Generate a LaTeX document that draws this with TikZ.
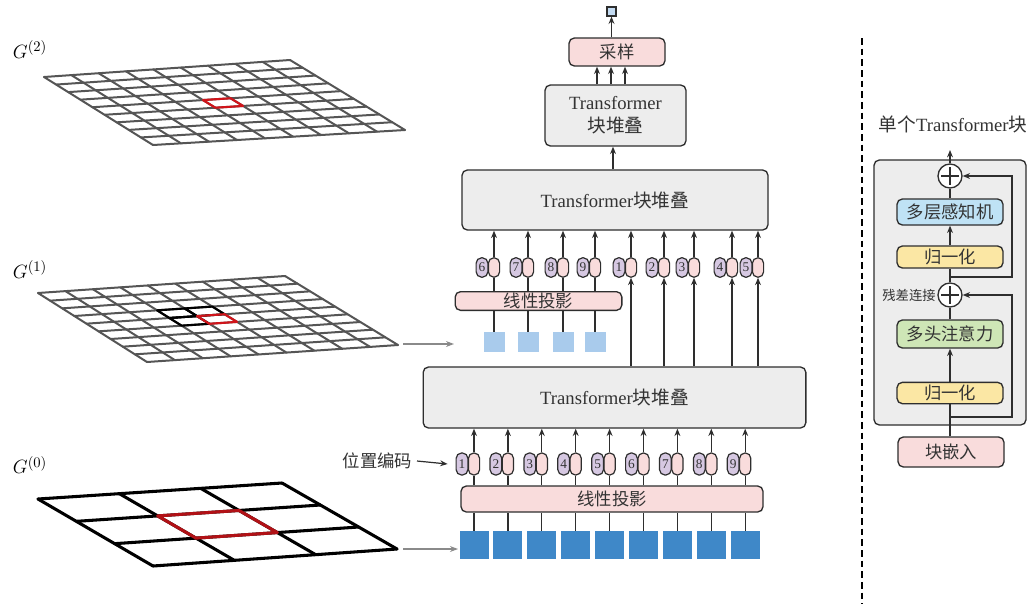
\documentclass[tikz,border=0pt]{standalone}
\usepackage{fontspec}
\setmainfont{Liberation Serif}
\newfontfamily\cjk{Noto Sans CJK SC}
\usetikzlibrary{calc,arrows.meta}
\definecolor{linec}{HTML}{2E2E2E}
\definecolor{boxgray}{HTML}{EDEDED}
\definecolor{pinkf}{HTML}{F9DCDC}
\definecolor{purpf}{HTML}{D6C8E2}
\definecolor{blueA}{HTML}{3F88C8}
\definecolor{blueB}{HTML}{A9CBEC}
\definecolor{mlpf}{HTML}{BFE2F5}
\definecolor{yelf}{HTML}{FBE7A4}
\definecolor{grnf}{HTML}{CEE6B6}
\definecolor{gridc}{HTML}{555555}
\definecolor{redc}{HTML}{D0141A}
\definecolor{txt}{HTML}{333333}
\definecolor{arrg}{HTML}{8A8A8A}

\tikzset{
  tbox/.style={draw=linec, line width=1pt, rounded corners=4pt, text=txt, inner sep=0pt, align=center},
  graybox/.style={tbox, fill=boxgray, font=\fontsize{14}{17}\selectfont},
  pinkbox/.style={tbox, fill=pinkf, font=\cjk\fontsize{13}{15}\selectfont},
  rbox/.style={tbox, minimum width=79.5pt, minimum height=16.5pt, font=\cjk\fontsize{13}{15}\selectfont},
  capP/.style={draw=linec, line width=0.9pt, fill=purpf, rounded corners=4pt, minimum width=8.8pt, minimum height=16pt, inner sep=0pt, font=\fontsize{10}{10}\selectfont, text=txt},
  capK/.style={capP, fill=pinkf, minimum width=8.4pt},
  conn/.style={draw=linec, line width=0.9pt},
  arr/.style={conn, -{Stealth[length=5.5pt,width=4.4pt]}},
  garr/.style={draw=arrg, line width=1.1pt, -{Stealth[length=6pt,width=4.4pt]}},
  sqA/.style={fill=blueA, minimum width=21.75pt, minimum height=21pt, inner sep=0pt},
  sqB/.style={fill=blueB, minimum width=15.75pt, minimum height=15pt, inner sep=0pt},
  plusnode/.style={circle, draw=linec, fill=white, line width=1pt, minimum size=18pt, inner sep=0pt},
  gridline/.style={draw=gridc, line width=1.5pt, line join=round, line cap=round},
  gridzero/.style={draw=black, line width=2.3pt, line join=round, line cap=round},
  glabel/.style={font=\fontsize{15}{15}\selectfont, text=black}
}

% #1 prefix, #2 n, #3 style
\newcommand\drawplane[3]{%
  \foreach \i in {0,...,#2}{
    \draw[#3] ($(#1a)!\i/#2!(#1d)$) -- ($(#1b)!\i/#2!(#1c)$);
    \draw[#3] ($(#1a)!\i/#2!(#1b)$) -- ($(#1d)!\i/#2!(#1c)$);
  }}
% #1 prefix, #2 u1, #3 u2, #4 v1, #5 v2, #6 style
\newcommand\drawcell[6]{%
  \draw[#6] ($($(#1a)!#4!(#1d)$)!#2!($(#1b)!#4!(#1c)$)$) --
            ($($(#1a)!#4!(#1d)$)!#3!($(#1b)!#4!(#1c)$)$) --
            ($($(#1a)!#5!(#1d)$)!#3!($(#1b)!#5!(#1c)$)$) --
            ($($(#1a)!#5!(#1d)$)!#2!($(#1b)!#5!(#1c)$)$) -- cycle;}
% #1 name, #2 x, #3 y, #4 number, #5 height
\newcommand\tokpair[5]{%
  \node[capK, minimum height=#5] (#1) at (#2,#3) {};
  \node[capP, minimum height=#5, anchor=east] (#1n) at ([xshift=0.5pt]#1.west) {#4};}

\begin{document}
\begin{tikzpicture}[x=0.75pt,y=-0.75pt]
\fill[white] (0,0) rectangle (1030,604);
\useasboundingbox (0,0) rectangle (1030,604);

% ---------- grids ----------
\coordinate (g2a) at (44,77);  \coordinate (g2b) at (290,60);
\coordinate (g2c) at (405,130); \coordinate (g2d) at (153,145);
\coordinate (g1a) at (38,293);  \coordinate (g1b) at (285,276);
\coordinate (g1c) at (398,345); \coordinate (g1d) at (147,362);
\coordinate (g0a) at (38,499);  \coordinate (g0b) at (282,483);
\coordinate (g0c) at (397,549); \coordinate (g0d) at (153,566);

\drawplane{g2}{9}{gridline}
\drawcell{g2}{4/9}{5/9}{4/9}{5/9}{draw=redc, line width=1.6pt, line join=round}

\drawplane{g1}{9}{gridline}
\drawcell{g1}{3/9}{4/9}{3/9}{4/9}{draw=black, line width=1.6pt, line join=round}
\drawcell{g1}{4/9}{5/9}{3/9}{4/9}{draw=black, line width=1.6pt, line join=round}
\drawcell{g1}{3/9}{4/9}{4/9}{5/9}{draw=black, line width=1.6pt, line join=round}
\drawcell{g1}{4/9}{5/9}{4/9}{5/9}{draw=redc, line width=1.6pt, line join=round}

\drawplane{g0}{3}{gridzero}
\drawcell{g0}{1/3}{2/3}{1/3}{2/3}{draw=redc!85!black, line width=2.3pt, line join=round}

\node[glabel] (G2) at (30,50) {$G^{(2)}$};
\node[glabel] (G1) at (30,270) {$G^{(1)}$};
\node[glabel] (G0) at (30,465) {$G^{(0)}$};

% ---------- central column ----------
\node[graybox, minimum width=287pt, minimum height=45.75pt] (T1) at (614.5,397.5) {Transformer{\cjk 块堆叠}};
\node[graybox, minimum width=229.5pt, minimum height=45pt] (T2) at (615,200) {Transformer{\cjk 块堆叠}};
\node[graybox, minimum width=105.75pt, minimum height=45.75pt] (T3) at (615.5,115.5) {Transformer\\{\cjk 块堆叠}};
\node[pinkbox, minimum width=72pt, minimum height=21pt] (S) at (617,52) {采样};
\node[draw=linec, fill=blueB!70, line width=0.9pt, minimum size=6.75pt, inner sep=0pt] (O) at (611.5,11.5) {};
\node[pinkbox, minimum width=226.5pt, minimum height=19.5pt] (P0) at (612,499) {线性投影};
\node[pinkbox, minimum width=125pt, minimum height=14pt] (P1) at (538.5,301) {线性投影};

\draw[arr] (T2.north -| 613,0) -- (T3.south -| 613,0);
\foreach \dx in {597,611,625}{
  \draw[arr] (T3.north -| \dx,0) -- (S.south -| \dx,0);
}
\draw[arr] (S.north -| O.south) -- (O.south);

% bottom level tokens
\foreach \i in {1,...,9}{
  \pgfmathsetmacro\cx{474+33.9*(\i-1)}
  \node[sqA] (sq\i) at (\cx,545) {};
  \tokpair{t\i}{\cx}{464}{\i}{16.5pt}
  \draw[conn] (sq\i.north) -- (sq\i.north |- P0.south);
  \draw[conn] (t\i.south |- P0.north) -- (t\i.south);
  \draw[arr] (t\i.north) -- (t\i.north |- T1.south);
}

% middle level tokens
\foreach \cx/\n [count=\k] in {494/6,528/7,563/8,595/9,631/1,664/2,694/3,732/4,758/5}{
  \tokpair{u\k}{\cx}{267.5}{\n}{14.5pt}
  \draw[arr] (u\k.north) -- (u\k.north |- T2.south);
  \ifnum\k<5
    \node[sqB] (v\k) at (\cx,342) {};
    \draw[conn] (v\k.north) -- (v\k.north |- P1.south);
    \draw[conn] (u\k.south |- P1.north) -- (u\k.south);
  \else
    \draw[arr] (u\k.south |- T1.north) -- (u\k.south);
  \fi
}

% position encoding label
\node[font=\cjk\fontsize{13}{15}\selectfont, text=txt, anchor=east] (PE) at (417,461) {位置编码};
\draw[arr] (PE.east) -- ([xshift=-6pt]t1n.west);

% grid arrows
\coordinate (ga1) at (403,344); \coordinate (gb1) at (454,344);
\coordinate (ga0) at (403,549); \coordinate (gb0) at (458,549);
\draw[garr] (ga1) -- (gb1);
\draw[garr] (ga0) -- (gb0);

% dashed separator
\coordinate (d1) at (862,38); \coordinate (d2) at (862,604);
\draw[black, line width=1.1pt, dash pattern=on 5pt off 3pt] (d1) -- (d2);

% ---------- single transformer block ----------
\node[tbox, fill=boxgray, minimum width=114pt, minimum height=198.75pt] (TB) at (950,292.5) {};
\node[text=txt, font=\fontsize{14}{16}\selectfont] (title) at (953,124) {{\cjk 单个}Transformer{\cjk 块}};
\node[plusnode] (A2) at (950,176) {};
\node[rbox, fill=mlpf, minimum height=19.5pt] (MLP) at (950,212) {多层感知机};
\node[rbox, fill=yelf] (N2) at (950,257) {归一化};
\node[plusnode] (A1) at (950,295) {};
\node[font=\cjk\fontsize{10}{12}\selectfont, text=txt, anchor=east, inner sep=1pt] (res) at (A1.west) {残差连接};
\node[rbox, fill=grnf, minimum height=21pt] (MHA) at (950,334) {多头注意力};
\node[rbox, fill=yelf, minimum height=16pt] (N1) at (950,393) {归一化};
\node[rbox, fill=pinkf, minimum height=22.5pt] (EMB) at (951,452) {块嵌入};

\foreach \p in {A1,A2}{
  \draw[conn] ([yshift=6.5pt]\p.center) -- ([yshift=-6.5pt]\p.center);
  \draw[conn] ([xshift=-6.5pt]\p.center) -- ([xshift=6.5pt]\p.center);
}

\coordinate (br1) at (950,417); \coordinate (rc1) at (1012,417);
\coordinate (br2) at (950,277); \coordinate (rc2) at (1012,277);
\coordinate (out) at (950,150);

\draw[conn] (EMB.north -| N1.south) -- (N1.south);
\draw[arr] (br1) -- (rc1) -- (rc1 |- A1) -- (A1.east);
\draw[arr] (N1.north) -- (MHA.south);
\draw[conn] (MHA.north) -- (A1.south);
\draw[conn] (A1.north) -- (N2.south);
\draw[arr] (br2) -- (rc2) -- (rc2 |- A2) -- (A2.east);
\draw[arr] (N2.north) -- (MLP.south);
\draw[conn] (MLP.north) -- (A2.south);
\draw[arr] (A2.north) -- (out);
\end{tikzpicture}
\end{document}
